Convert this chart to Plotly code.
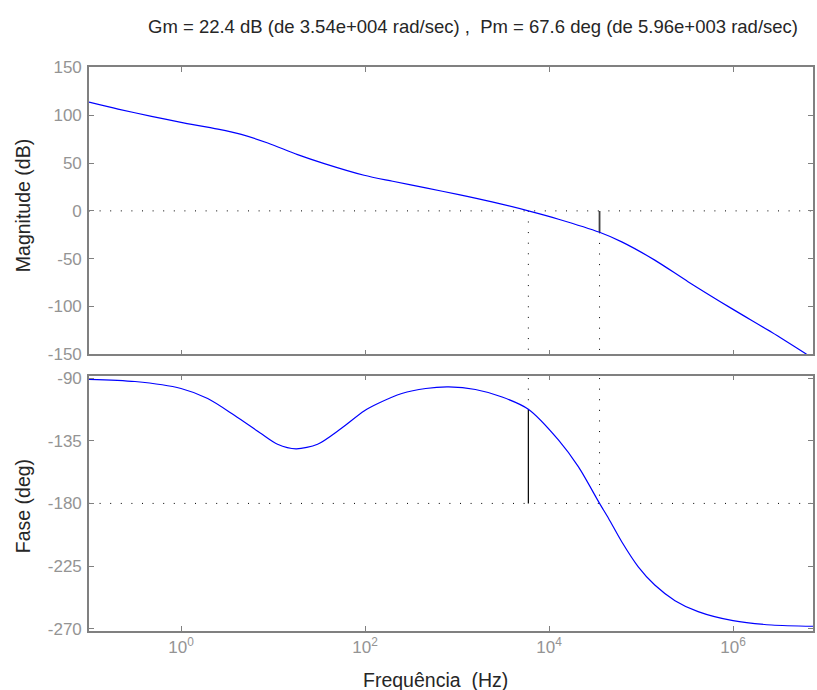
import plotly.graph_objects as go

# Stability margins of the open loop
gain_margin_db = 22.4
w_phase_cross = 3.54e4
phase_margin_deg = 67.6
w_gain_cross = 5.96e3

# Magnitude response (rad/s, dB)
mag_freq = [0.1, 0.207, 0.478, 1.0, 2.52, 4.52, 8.77, 18.5, 36.1, 97.7, 200, 457,
            1047, 2400, 5960, 12700, 35400, 61700, 141000, 324000, 1.0e6, 2.63e6, 6.3e6]
mag_db = [113.8, 106.5, 98.9, 92.6, 85.5, 80.0, 71.0, 58.9, 49.5, 37.3, 31.0, 24.0,
          17.0, 9.4, 0.0, -8.7, -22.4, -32.4, -51.5, -74.0, -103.0, -127.0, -150.0]

# Phase response (rad/s, deg)
ph_freq = [0.1, 0.316, 1.0, 1.95, 3.8, 7.41, 11.2, 17.8, 30.5, 55, 97.7, 138, 251, 457,
           813, 1585, 3090, 5960, 12700, 20900, 35400, 44400, 61700, 93300, 141000,
           234000, 417000, 1.0e6, 2.63e6, 7.4e6]
ph_deg = [-90.9, -92.5, -97.5, -104.7, -116.7, -129.8, -137.5, -140.8, -137.5, -126.2,
          -113.6, -108.3, -101.1, -97.5, -96.4, -98.2, -103.6, -112.4, -134.6, -153.8,
          -180.0, -190.8, -207.5, -225.5, -238.6, -249.8, -257.7, -264.2, -267.3, -268.2]

# Axis setup
f_min, f_max = 0.1, 7.4e6
mag_ticks = [-150, -100, -50, 0, 50, 100, 150]
ph_ticks = [-270, -225, -180, -135, -90]
x_ticks = [1, 1e2, 1e4, 1e6]
x_tick_text = ["10<sup>0</sup>", "10<sup>2</sup>", "10<sup>4</sup>", "10<sup>6</sup>"]

title_text = ("Gm = %.1f dB (de %.2e rad/sec) ,  Pm = %.1f deg (de %.2e rad/sec)"
              % (gain_margin_db, w_phase_cross, phase_margin_deg, w_gain_cross))
title_text = title_text.replace("e+04", "e+004").replace("e+03", "e+003")

pm_phase = -180 + phase_margin_deg
DOT = "1px,9.6px"
BLUE = "#0000ff"
AX = "#808080"
FAMILY = "Liberation Sans, Arial, sans-serif"
TICKFONT = dict(family=FAMILY, size=17, color="#949494")
LABELFONT = dict(family=FAMILY, size=19.5, color="#262626")

fig = go.Figure()


def seg(x, y, xa, ya, dash, color="black", width=1.0):
    fig.add_trace(go.Scatter(x=x, y=y, xaxis=xa, yaxis=ya, mode="lines",
                             line=dict(color=color, width=width, dash=dash),
                             hoverinfo="skip", showlegend=False))


# Magnitude panel reference lines
seg([f_min, f_max], [0, 0], "x", "y", DOT)
seg([w_gain_cross, w_gain_cross], [0, -150], "x", "y", DOT)
seg([w_phase_cross, w_phase_cross], [-gain_margin_db, -150], "x", "y", DOT)
seg([w_phase_cross, w_phase_cross], [0, -gain_margin_db], "x", "y", "solid", "#404040", 1.8)

# Phase panel reference lines
seg([f_min, f_max], [-180, -180], "x2", "y2", DOT)
seg([w_gain_cross, w_gain_cross], [-90, pm_phase], "x2", "y2", DOT)
seg([w_gain_cross, w_gain_cross], [pm_phase, -180], "x2", "y2", "solid", "black", 1.2)
seg([w_phase_cross, w_phase_cross], [-90, -180], "x2", "y2", DOT)

# Frequency responses
fig.add_trace(go.Scatter(x=mag_freq, y=mag_db, xaxis="x", yaxis="y", mode="lines",
                         line=dict(color=BLUE, width=1.2, shape="spline", smoothing=0.8),
                         showlegend=False))
fig.add_trace(go.Scatter(x=ph_freq, y=ph_deg, xaxis="x2", yaxis="y2", mode="lines",
                         line=dict(color=BLUE, width=1.2, shape="spline", smoothing=0.8),
                         showlegend=False))

common_x = dict(type="log", range=[-1, 6.869], tickvals=x_ticks, ticktext=x_tick_text,
                ticks="inside", ticklen=5, tickcolor=AX, showline=True, linecolor=AX,
                linewidth=1.6, mirror="ticks", showgrid=False, zeroline=False,
                tickfont=TICKFONT)
common_y = dict(ticks="inside", ticklen=5, tickcolor=AX, showline=True, linecolor=AX,
                linewidth=1.6, mirror="ticks", showgrid=False, zeroline=False,
                tickfont=TICKFONT, ticklabelstandoff=2)

fig.update_layout(
    width=817, height=690, autosize=False,
    margin=dict(l=89, r=2, t=67, b=59),
    paper_bgcolor="white", plot_bgcolor="white",
    xaxis=dict(common_x, anchor="y", showticklabels=False, matches="x2"),
    yaxis=dict(common_y, domain=[0.4906, 1.0], range=[-150, 150.5], tickvals=mag_ticks,
               ticktext=[str(v) for v in mag_ticks]),
    xaxis2=dict(common_x, anchor="y2"),
    yaxis2=dict(common_y, domain=[0.0, 0.4527], range=[-271.6, -88.3], tickvals=ph_ticks,
                ticktext=[str(v) for v in ph_ticks]),
    annotations=[
        dict(text=title_text, xref="paper", yref="paper", x=(474 - 89) / 726,
             y=1 + 40 / 564, xanchor="center", yanchor="middle", showarrow=False,
             font=dict(family=FAMILY, size=18.5, color="#262626")),
        dict(text="Magnitude (dB)", xref="paper", yref="paper", x=-66 / 726,
             y=(631 - 206) / 564, xanchor="center", yanchor="middle", textangle=-90,
             showarrow=False, font=LABELFONT),
        dict(text="Fase (deg)", xref="paper", yref="paper", x=-66 / 726,
             y=(631 - 506) / 564, xanchor="center", yanchor="middle", textangle=-90,
             showarrow=False, font=LABELFONT),
        dict(text="Frequência  (Hz)", xref="paper", yref="paper", x=(436 - 89) / 726,
             y=-49 / 564, xanchor="center", yanchor="middle", showarrow=False,
             font=LABELFONT),
    ],
)

fig.write_html("out.html")
